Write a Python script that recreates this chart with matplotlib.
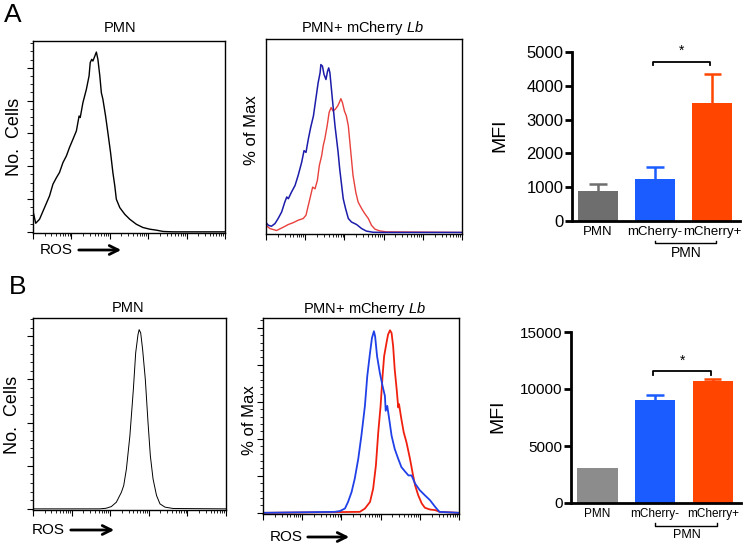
import numpy as np
import matplotlib
matplotlib.use("Agg")
import matplotlib.pyplot as plt
from matplotlib.patches import FancyArrowPatch

plt.rcParams['font.family'] = ['Liberation Sans', 'DejaVu Sans']
plt.rcParams['mathtext.fontset'] = 'custom'
plt.rcParams['mathtext.rm'] = 'Liberation Sans'
plt.rcParams['mathtext.it'] = 'Liberation Sans:italic'

# ---- histogram data (x = log10 ROS intensity, y = % of max) ----
a_pmn_x = [0.00, 0.07, 0.17, 0.30, 0.43, 0.52, 0.61, 0.69, 0.78, 0.87, 0.95, 1.04, 1.13, 1.20,
           1.23, 1.30, 1.39, 1.46, 1.49, 1.53, 1.56, 1.61, 1.65, 1.69, 1.74, 1.78, 1.82, 1.89,
           1.95, 2.02, 2.08, 2.13, 2.17, 2.26, 2.39, 2.52, 2.69, 2.86, 3.04, 3.21, 3.39, 3.65, 5.0]
a_pmn_y = [11.0, 4.5, 6.6, 12.7, 18.8, 25.0, 28.4, 31.1, 36.3, 39.8, 44.2, 48.5, 52.9, 60.7,
           59.9, 67.7, 74.7, 81.7, 88.7, 90.4, 89.5, 92.1, 94.2, 90.4, 81.7, 72.9, 69.5, 60.7,
           52.0, 41.5, 31.1, 24.1, 17.1, 12.7, 9.2, 6.6, 4.0, 2.3, 1.4, 0.9, 0.2, 0.0, 0.0]

a_neg_x = [0.00, 0.06, 0.14, 0.23, 0.31, 0.40, 0.48, 0.53, 0.57, 0.65, 0.74, 0.82, 0.91, 0.97,
           1.02, 1.08, 1.14, 1.21, 1.27, 1.33, 1.38, 1.40, 1.44, 1.48, 1.53, 1.57, 1.60, 1.63,
           1.67, 1.71, 1.76, 1.80, 1.84, 1.88, 1.93, 1.97, 2.03, 2.10, 2.18, 2.31, 2.44, 2.56,
           2.73, 2.99, 5.0]
a_neg_y = [5.3, 3.9, 3.4, 4.8, 7.4, 10.8, 15.9, 18.5, 17.6, 21.0, 24.4, 29.6, 36.4, 42.4,
           41.5, 48.4, 54.4, 60.3, 68.9, 77.4, 82.6, 86.8, 86.0, 81.7, 79.1, 83.4, 85.1, 82.6,
           74.0, 65.5, 55.2, 48.4, 41.5, 33.0, 24.4, 17.6, 12.5, 7.4, 5.6, 4.3, 2.2, 0.9,
           0.3, 0.2, 0.2]

a_pos_x = [0.00, 0.10, 0.27, 0.44, 0.57, 0.70, 0.82, 0.95, 1.02, 1.08, 1.14, 1.19, 1.25, 1.31,
           1.36, 1.42, 1.46, 1.50, 1.56, 1.61, 1.66, 1.71, 1.77, 1.83, 1.87, 1.91, 1.95, 2.00,
           2.05, 2.10, 2.14, 2.18, 2.22, 2.29, 2.35, 2.44, 2.52, 2.61, 2.69, 2.78, 2.90, 3.07, 5.0]
a_pos_y = [3.9, 2.2, 1.2, 2.9, 4.3, 5.3, 6.5, 7.4, 9.1, 14.2, 19.3, 23.6, 22.7, 27.0,
           34.7, 39.8, 45.0, 48.4, 55.2, 62.1, 64.6, 62.9, 63.8, 65.5, 67.2, 69.2, 67.2, 62.9,
           60.3, 55.2, 46.7, 38.1, 29.6, 21.0, 15.9, 12.5, 9.9, 7.4, 3.9, 1.9, 1.0, 0.5, 0.2]

b_pmn_x = [0.00, 1.73, 1.89, 2.03, 2.16, 2.29, 2.35, 2.42, 2.51, 2.60, 2.66, 2.72, 2.75, 2.79,
           2.84, 2.91, 2.98, 3.04, 3.11, 3.20, 3.29, 3.42, 3.63, 5.0]
b_pmn_y = [0.0, 0.0, 0.3, 1.2, 3.5, 8.7, 12.2, 20.9, 38.3, 62.6, 81.7, 91.3, 93.9, 92.2,
           83.5, 67.8, 45.2, 27.8, 15.7, 7.0, 2.6, 0.9, 0.2, 0.0]

b_neg_x = [0.00, 1.83, 1.96, 2.09, 2.17, 2.26, 2.34, 2.43, 2.51, 2.60, 2.66, 2.73, 2.78, 2.83,
           2.86, 2.91, 2.98, 3.05, 3.11, 3.13, 3.17, 3.22, 3.28, 3.36, 3.45, 3.53, 3.62, 3.71,
           3.79, 3.88, 4.00, 4.13, 4.26, 4.39, 4.50, 5.0]
b_neg_y = [0.0, 0.5, 0.9, 2.2, 5.6, 10.7, 17.5, 27.7, 39.6, 54.9, 70.2, 82.1, 89.8, 93.2,
           90.6, 80.4, 71.9, 65.1, 60.0, 52.4, 54.9, 48.1, 39.6, 32.8, 27.7, 23.5, 21.3, 19.2,
           19.2, 15.0, 11.6, 9.0, 6.5, 3.1, 0.5, 0.0]

b_pos_x = [0.00, 2.47, 2.60, 2.73, 2.81, 2.88, 2.94, 3.00, 3.05, 3.09, 3.15, 3.19, 3.24, 3.28,
           3.32, 3.36, 3.41, 3.45, 3.47, 3.53, 3.59, 3.66, 3.75, 3.82, 3.88, 3.96, 4.05, 4.13,
           4.26, 4.39, 4.51, 5.0]
b_pos_y = [0.0, 0.5, 2.2, 5.6, 12.4, 24.3, 41.3, 54.9, 70.2, 80.4, 87.2, 91.5, 93.7, 92.3,
           85.5, 73.6, 63.4, 54.1, 55.8, 48.1, 41.3, 36.2, 27.7, 20.1, 14.1, 9.0, 4.8, 2.6,
           1.7, 1.4, 0.5, 0.0]

# ---- MFI bar data ----
groups = ["PMN", "mCherry-", "mCherry+"]
a_mfi = [890, 1230, 3500]
a_err = [210, 370, 850]
b_mfi = [3100, 9000, 10680]
b_err = [0, 500, 170]

W, H = 745, 547
fig = plt.figure(figsize=(W / 100, H / 100), dpi=100)


def box(x0, y0, x1, y1):
    return [x0 / W, 1 - y1 / H, (x1 - x0) / W, (y1 - y0) / H]


minor_x = [d + np.log10(k) for d in range(5) for k in range(2, 10)]


def histo_axes(rect, ystep=None, nminor=4, lw=1.0):
    ax = fig.add_axes(rect)
    ax.set_xlim(0, 5)
    ax.set_ylim(-0.6, 100)
    for s in ax.spines.values():
        s.set_linewidth(lw)
    ax.set_xticks(range(6))
    ax.set_xticks(minor_x, minor=True)
    ax.tick_params(axis='x', which='major', direction='out', length=4, width=0.8, labelbottom=False)
    ax.tick_params(axis='x', which='minor', direction='out', length=2.5, width=0.6)
    if ystep:
        ax.set_yticks(np.arange(0, 100, ystep))
        ax.set_yticks(np.arange(0, 100, ystep / nminor), minor=True)
        ax.tick_params(axis='y', which='major', direction='out', length=4, width=0.8, labelleft=False)
        ax.tick_params(axis='y', which='minor', direction='out', length=2.5, width=0.6)
    else:
        ax.set_yticks([])
    return ax


# A - PMN
ax1 = histo_axes(box(33, 41, 225, 233), ystep=17.2, nminor=4)
ax1.plot(a_pmn_x, a_pmn_y, color='black', lw=1.0)
# A - PMN + mCherry Lb
ax2 = histo_axes(box(266, 39, 462, 234))
ax2.plot(a_pos_x, a_pos_y, color='#e8403c', lw=1.0)
ax2.plot(a_neg_x, a_neg_y, color='#1c1caa', lw=1.1)
# B - PMN
ax4 = histo_axes(box(33, 318, 226, 510), ystep=22.6, nminor=5)
ax4.plot(b_pmn_x, b_pmn_y, color='black', lw=0.7)
# B - PMN + mCherry Lb
ax5 = histo_axes(box(263, 318, 459, 514), ystep=19.0, nminor=5)
ax5.plot(b_pos_x, b_pos_y, color='#f0200f', lw=1.3)
ax5.plot(b_neg_x, b_neg_y, color='#2040e8', lw=1.3)


def bar_axes(rect, vals, errs, pmn_color, ymax, step, star_y, lab_fs, tick_fs):
    ax = fig.add_axes(rect)
    colors = [pmn_color, '#1a5cff', '#ff4500']
    x = np.arange(len(vals))
    ax.bar(x, vals, width=0.7, color=colors)
    # upper error bars only
    for xi, v, e, c in zip(x, vals, errs, colors):
        if e > 0:
            ax.vlines(xi, v, v + e, color=c, lw=1.8)
            ax.hlines(v + e, xi - 0.15, xi + 0.15, color=c, lw=1.8)
    ax.set_xlim(-0.456, 2.49)
    ax.set_ylim(0, ymax)
    ax.set_yticks(np.arange(0, ymax + 1, step))
    ax.set_xticks([])
    for side in ['top', 'right']:
        ax.spines[side].set_visible(False)
    for side in ['left', 'bottom']:
        ax.spines[side].set_linewidth(2)
    ax.tick_params(axis='y', direction='out', length=5, width=2, labelsize=tick_fs, pad=1)
    ax.set_ylabel("MFI", fontsize=14)
    ax.yaxis.set_label_coords(-0.38, 0.51)
    tr = ax.get_xaxis_transform()
    # category labels under the axis
    for xi, g in zip(x, groups):
        ax.text(xi, -0.065, g, transform=tr, ha='center', va='center', fontsize=lab_fs)
    # PMN bracket under the mCherry groups
    ax.plot([1.0, 1.0, 2.07, 2.07], [-0.118, -0.132, -0.132, -0.118], color='black',
            lw=1.0, transform=tr, clip_on=False)
    ax.text(1.55, -0.19, "PMN", transform=tr, ha='center', va='center', fontsize=lab_fs + 0.5)
    # significance bracket
    ax.plot([0.97, 0.97, 1.97, 1.97], [star_y - 0.02, star_y, star_y, star_y - 0.02],
            color='black', lw=1.3, transform=tr, clip_on=False)
    ax.text(1.47, star_y + 0.02, "*", transform=tr, ha='center', va='bottom', fontsize=10)
    return ax


ax3 = bar_axes(box(572, 52, 740, 221), a_mfi, a_err, '#6e6e6e', 5000, 1000, 0.943, 9.5, 12)
ax6 = bar_axes(box(571, 332, 741, 503), b_mfi, b_err, '#8c8c8c', 15000, 5000, 0.77, 8.5, 11)


# figure-level labels
def ftext(x, y, s, **kw):
    fig.text(x / W, 1 - y / H, s, ha='center', va='center', **kw)


ftext(13, 15, "A", fontsize=19)
ftext(18, 287, "B", fontsize=19)
ftext(120, 28, "PMN", fontsize=10.5)
ftext(363, 28, r"PMN+ mCherry $\it{Lb}$", fontsize=10.5)
ftext(128, 308, "PMN", fontsize=10.5)
ftext(365, 309, r"PMN+ mCherry $\it{Lb}$", fontsize=10.5)
ftext(15, 137, "No.  Cells", fontsize=13, rotation=90)
ftext(13, 415, "No.  Cells", fontsize=13, rotation=90)
ftext(252, 130, "% of Max", fontsize=12, rotation=90)
ftext(250, 420, "% of Max", fontsize=12, rotation=90)


def ros(tx, ty, x0, x1):
    ftext(tx, ty, "ROS", fontsize=11)
    fig.add_artist(FancyArrowPatch(
        (x0 / W, 1 - ty / H), (x1 / W, 1 - ty / H), transform=fig.transFigure,
        arrowstyle='->', mutation_scale=16, lw=2.0, color='black'))


ros(56, 250, 76, 124)
ros(48, 530, 68, 117)
ros(286, 537, 305, 352)

fig.savefig("out.png", dpi=100)
